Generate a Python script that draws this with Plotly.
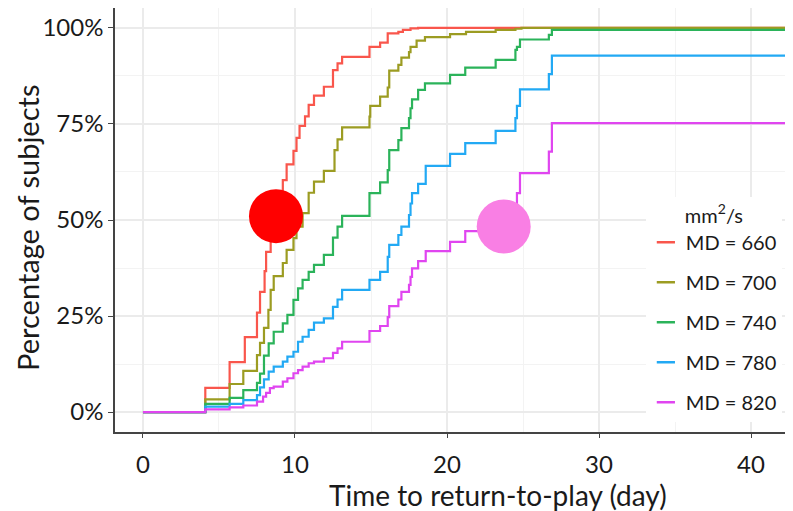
import plotly.graph_objects as go

# ---- data ----
series_names = ["MD = 660", "MD = 700", "MD = 740", "MD = 780", "MD = 820"]
series_colors = ["#F9564C", "#9C9C22", "#2BB35A", "#22A9F4", "#E045F0"]

t_660 = [4.1, 5.7, 6.7, 7.5, 7.7, 8.0, 8.1, 8.4, 8.6, 8.9, 9.2, 9.45, 9.9, 10.1, 10.3, 10.66, 10.9,
         11.25, 11.9, 12.5, 12.8, 13.1, 14.9, 15.6, 16.1, 16.8, 17.1, 17.6, 18.1]
p_660 = [6.3, 13.0, 19.5, 25.9, 31.3, 36.7, 41.7, 46.0, 51.0, 56.0, 60.4, 64.5, 68.0, 71.4, 74.5, 77.0, 80.0,
         82.4, 84.7, 89.0, 90.8, 92.5, 95.1, 96.2, 98.6, 99.0, 99.5, 99.9, 100.0]

t_700 = [4.1, 5.7, 6.6, 7.5, 7.7, 7.96, 8.25, 8.4, 8.6, 9.2, 9.45, 9.9, 10.1, 10.5, 10.9, 11.25, 11.9,
         12.6, 12.8, 13.1, 14.9, 14.95, 15.6, 16.1, 16.2, 16.8, 17.0, 17.5, 17.6, 18.0, 18.55, 20.2,
         21.25, 23.2, 24.5, 24.9]
p_700 = [3.3, 7.3, 10.7, 14.8, 18.0, 21.9, 26.6, 31.8, 35.4, 38.8, 42.2, 45.3, 48.3, 51.8, 57.1, 60.0, 62.8,
         68.2, 71.0, 74.1, 76.9, 79.7, 82.1, 84.5, 88.9, 90.4, 92.3, 93.7, 95.1, 96.7, 97.6, 98.4,
         99.0, 99.5, 99.8, 100.0]

t_740 = [4.1, 5.7, 6.6, 7.5, 7.7, 7.96, 8.27, 8.6, 9.2, 9.5, 9.9, 10.2, 10.5, 10.9, 11.25, 11.9, 12.5,
         12.8, 13.1, 14.9, 15.6, 16.1, 16.2, 16.8, 17.0, 17.5, 17.6, 17.7, 18.1, 18.55, 20.2, 21.2,
         23.2, 24.5, 24.6, 24.8, 26.7, 26.9]
p_740 = [2.1, 3.7, 5.7, 7.6, 10.0, 14.7, 17.9, 20.9, 23.1, 25.3, 29.2, 32.2, 34.4, 36.5, 38.3, 40.9, 45.4,
         48.3, 51.1, 57.0, 59.8, 63.0, 68.2, 70.8, 73.9, 76.5, 79.1, 81.4, 83.9, 85.6, 87.8, 89.7,
         91.7, 94.3, 95.1, 97.0, 98.2, 99.5]

t_780 = [4.1, 5.7, 6.6, 7.5, 7.7, 7.96, 8.27, 8.6, 9.2, 9.5, 9.9, 10.2, 10.5, 10.9, 11.25, 11.9, 12.5,
         12.8, 13.1, 14.9, 15.6, 16.1, 16.2, 16.8, 17.0, 17.5, 17.6, 17.7, 18.1, 18.6, 20.2, 21.2,
         23.2, 24.5, 24.6, 24.8, 26.7, 26.9]
p_780 = [1.4, 2.1, 3.1, 4.4, 6.4, 8.5, 10.5, 11.8, 13.1, 14.4, 15.7, 18.3, 19.6, 21.4, 23.3, 24.4, 27.4,
         29.3, 31.8, 34.4, 36.5, 40.4, 43.5, 46.1, 48.3, 51.3, 54.3, 57.0, 59.4, 64.1, 67.2, 70.0,
         73.2, 76.5, 79.7, 84.0, 88.0, 92.8]

t_820 = [4.1, 5.7, 6.6, 7.5, 7.9, 8.1, 8.35, 8.6, 9.2, 9.5, 9.9, 10.2, 10.5, 10.9, 11.25, 11.9, 12.5,
         12.8, 13.1, 14.9, 15.6, 16.1, 16.2, 16.8, 17.0, 17.5, 17.6, 17.7, 18.1, 18.6, 20.2, 21.2,
         23.2, 24.5, 24.6, 24.8, 26.7, 26.9]
p_820 = [0.7, 1.2, 1.7, 2.7, 4.0, 5.0, 6.2, 6.6, 7.9, 8.8, 10.1, 10.9, 11.8, 12.7, 13.1, 14.0, 15.4,
         16.6, 18.3, 21.1, 22.4, 24.7, 27.6, 29.3, 31.3, 33.1, 35.2, 37.4, 39.3, 41.9, 44.3, 47.1,
         50.0, 53.5, 57.0, 62.2, 67.8, 75.2]

t_end = 42.5
series_times = [t_660, t_700, t_740, t_780, t_820]
series_pcts = [p_660, p_700, p_740, p_780, p_820]

# highlight circles
circle_x = [8.75, 23.73]
circle_y = [51.0, 48.3]
circle_colors = ["#FF0000", "#F97FE4"]

x_ticks = [0, 10, 20, 30, 40]
y_ticks = [0, 25, 50, 75, 100]
y_tick_text = ["0%", "25%", "50%", "75%", "100%"]

x_title = "Time to return-to-play (day)"
y_title = "Percentage of subjects"

FONT = "Lato"

fig = go.Figure()
for name, col, ts, ps in zip(series_names, series_colors, series_times, series_pcts):
    xs = [0] + ts + [t_end]
    ys = [0] + ps + [ps[-1]]
    fig.add_trace(go.Scatter(x=xs, y=ys, mode="lines", line=dict(color=col, width=2.2, shape="hv"),
                             showlegend=False, hoverinfo="skip"))

for i, (name, col) in enumerate(zip(series_names, series_colors)):
    fig.add_trace(go.Scatter(x=[None], y=[None], mode="markers", name=name, legendgroup=name,
                             marker=dict(symbol="line-ew-open", size=13, color=col,
                                         line=dict(color=col, width=2.5))))

fig.add_trace(go.Scatter(x=circle_x, y=circle_y, mode="markers", showlegend=False,
                         marker=dict(size=54, color=circle_colors, line=dict(width=0)), hoverinfo="skip"))

fig.add_annotation(text=x_title, xref="paper", yref="paper", x=0.565, y=-0.149,
                   xanchor="center", yanchor="middle", showarrow=False,
                   font=dict(size=28, family=FONT, color="#1a1a1a"))
fig.add_annotation(text=y_title, xref="paper", yref="paper", x=-0.13, y=0.481, textangle=-90,
                   xanchor="center", yanchor="middle", showarrow=False,
                   font=dict(size=29, family=FONT, color="#1a1a1a"))

fig.update_layout(
    width=785, height=503,
    margin=dict(l=107, r=0, t=0, b=79),
    paper_bgcolor="white", plot_bgcolor="white",
    font=dict(family=FONT, size=22, color="#1a1a1a"),
    legend=dict(
        x=0.783, xanchor="left", y=0.555, yanchor="top",
        bgcolor="white", borderwidth=0,
        title=dict(text="mm<sup>2</sup>/s", side="top center", font=dict(size=20, family=FONT)),
        font=dict(size=20, family=FONT, color="#1a1a1a"),
        tracegroupgap=11,
    ),
    xaxis=dict(
        range=[-1.84, 42.76], tickvals=x_ticks, ticks="outside", ticklen=4, tickcolor="#444",
        ticklabelstandoff=6,
        showgrid=True, gridcolor="#EBEBEB", gridwidth=1.5, zeroline=False, automargin=False,
        minor=dict(dtick=5, tick0=0, showgrid=True, gridcolor="#F3F3F3", gridwidth=1),
        showline=True, linecolor="#444", linewidth=1.5, mirror=True,
        tickfont=dict(size=24),
    ),
    yaxis=dict(
        range=[-5.2, 105.2], tickvals=y_ticks, ticktext=y_tick_text, ticks="outside", ticklen=5,
        tickcolor="#444", automargin=False,
        showgrid=True, gridcolor="#EBEBEB", gridwidth=1.5, zeroline=False,
        minor=dict(dtick=12.5, tick0=0, showgrid=True, gridcolor="#F3F3F3", gridwidth=1),
        showline=True, linecolor="#444", linewidth=1.5, mirror=True,
        tickfont=dict(size=24),
    ),
)

fig.write_html("out.html")
